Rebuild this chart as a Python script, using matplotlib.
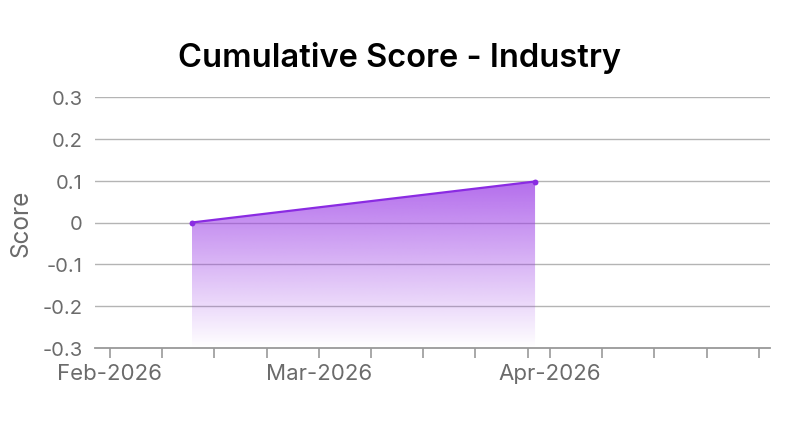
import numpy as np
import pandas as pd
import matplotlib
matplotlib.use('Agg')
import matplotlib.pyplot as plt
import matplotlib.dates as mdates
from matplotlib.colors import to_rgb

plt.rcParams['font.family'] = ['Inter', 'DejaVu Sans']

# data
dates = pd.to_datetime(['2026-02-12', '2026-03-30'])
scores = [0.0, 0.098]
y_ticks = [-0.3, -0.2, -0.1, 0, 0.1, 0.2, 0.3]
y_labels = ['-0.3', '-0.2', '-0.1', '0', '0.1', '0.2', '0.3']

line_col = '#8a2be2'
grid_col = '#b4b4b4'
text_col = '#6b6b6b'

fig = plt.figure(figsize=(8, 4.31), dpi=100)
ax = fig.add_axes([95/800, 1 - 349/431, 675/800, 251/431])

x = mdates.date2num(dates)
y = np.array(scores)
ymin, ymax = -0.3, 0.3

# gradient fill under line
poly = ax.fill_between(x, y, ymin, color='none', lw=0)
rgb = to_rgb('#9b3de6')
grad = np.zeros((256, 1, 4))
grad[:, 0, :3] = rgb
grad[:, 0, 3] = np.linspace(0.75, 0.0, 256)
im = ax.imshow(grad, aspect='auto', extent=[x.min(), x.max(), ymin, y.max()],
               origin='upper', zorder=2)
im.set_clip_path(poly.get_paths()[0], transform=ax.transData)

ax.plot(x, y, color=line_col, lw=1.6, zorder=3)
ax.scatter(x, y, s=18, color=line_col, zorder=4, linewidths=0)

ax.set_xlim(mdates.date2num(pd.Timestamp('2026-01-30')),
            mdates.date2num(pd.Timestamp('2026-04-30 12:00')))
ax.set_ylim(ymin, ymax)

ax.xaxis.set_major_locator(mdates.MonthLocator())
ax.xaxis.set_major_formatter(mdates.DateFormatter('%b-%Y'))
ax.xaxis.set_minor_locator(mdates.DayLocator(bymonthday=[8, 15, 22, 29]))

ax.set_yticks(y_ticks)
ax.set_yticklabels(y_labels)
for v in y_ticks[1:]:
    ax.axhline(v, color=grid_col, lw=1, zorder=1)

for s in ['top', 'right', 'left']:
    ax.spines[s].set_visible(False)
ax.spines['bottom'].set_color('#999999')
ax.spines['bottom'].set_linewidth(1.3)

ax.tick_params(axis='y', length=0, pad=9, labelsize=14.5, labelcolor=text_col)
ax.tick_params(axis='x', which='both', length=7, width=1.2, color='#999999',
               pad=4, labelsize=16, labelcolor=text_col)

ax.set_ylabel('Score', fontsize=17.5, color=text_col, labelpad=7)
fig.text(0.5, 1 - 58/431, 'Cumulative Score - Industry', ha='center', va='center',
         fontsize=23.5, fontweight='semibold', color='black')

fig.savefig('out.png', dpi=100)
